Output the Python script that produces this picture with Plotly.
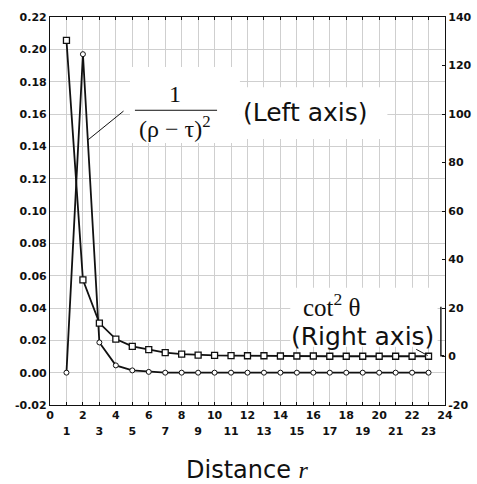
import plotly.graph_objects as go

# ---- data ----
distance_r = list(range(1, 24))
inv_rho_tau_sq = [0.0, 0.197, 0.0187, 0.0045, 0.0014, 0.0005, 0.0, 0.0, 0.0, 0.0, 0.0, 0.0,
                  0.0, 0.0, 0.0, 0.0, 0.0, 0.0, 0.0, 0.0, 0.0, 0.0, 0.0]            # left axis
cot_sq_theta = [130.4, 31.6, 13.8, 7.2, 4.2, 2.8, 1.6, 1.0, 0.6, 0.5, 0.4, 0.3,
                0.3, 0.2, 0.2, 0.2, 0.1, 0.1, 0.1, 0.1, 0.1, 0.1, 0.1]          # right axis
even_ticks = list(range(0, 25, 2))
odd_ticks = list(range(1, 24, 2))
left_ticks = [round(-0.02 + 0.02 * i, 2) for i in range(13)]
right_ticks = list(range(-20, 141, 20))

TICKFONT = dict(family="DejaVu Sans", size=11, color="#111", weight="bold")
SERIF = "Liberation Serif"
SANS = "DejaVu Sans"

fig = go.Figure()
fig.add_trace(go.Scatter(
    x=distance_r, y=inv_rho_tau_sq, mode="lines+markers",
    line=dict(color="#111", width=1.8),
    marker=dict(symbol="circle", size=5, color="white", line=dict(color="#111", width=1)),
    xaxis="x", yaxis="y", showlegend=False, hoverinfo="skip"))
fig.add_trace(go.Scatter(
    x=distance_r, y=cot_sq_theta, mode="lines+markers",
    line=dict(color="#111", width=1.8),
    marker=dict(symbol="square", size=6, color="white", line=dict(color="#111", width=1.3)),
    xaxis="x2", yaxis="y2", showlegend=False, hoverinfo="skip"))

even_text = [str(v) if v % 2 == 0 else "" for v in range(25)]

fig.update_layout(
    template="none",
    width=477, height=484,
    margin=dict(l=50, r=32, t=17, b=79, autoexpand=False),
    paper_bgcolor="white", plot_bgcolor="white",
    xaxis=dict(range=[0, 24], tickmode="array", tickvals=list(range(25)), ticktext=even_text,
               showgrid=True, gridcolor="#cfcfcf", gridwidth=1,
               showline=True, linecolor="#111", linewidth=1.2, mirror="ticks",
               ticks="inside", ticklen=3, tickcolor="#111", tickfont=TICKFONT,
               zeroline=False, automargin=False),
    xaxis2=dict(range=[0, 24], overlaying="x", anchor="y", side="bottom",
                tickmode="array", tickvals=odd_ticks, ticktext=[str(v) for v in odd_ticks],
                showgrid=False, showline=False, ticks="", tickfont=TICKFONT,
                ticklabelstandoff=18, zeroline=False, automargin=False),
    yaxis=dict(range=[-0.02, 0.22], tickmode="array", tickvals=left_ticks,
               ticktext=[f"{v:.2f}" for v in left_ticks],
               showgrid=True, gridcolor="#cfcfcf", gridwidth=1,
               showline=True, linecolor="#111", linewidth=1.2,
               ticks="", tickfont=TICKFONT, zeroline=False, automargin=False),
    yaxis2=dict(range=[-20, 140], tickmode="array", tickvals=right_ticks,
                ticktext=[str(v) for v in right_ticks],
                overlaying="y", side="right", anchor="x2",
                showgrid=False, showline=True, linecolor="#111", linewidth=1.2,
                ticks="inside", ticklen=3, tickcolor="#111", tickfont=TICKFONT,
                zeroline=False, automargin=False),
)

# white boxes hiding the grid behind the labels
for x0, x1, y0, y1 in [(4.86, 11.54, 0.142, 0.189),
                       (11.54, 20.5, 0.1445, 0.1765),
                       (14.6, 23.55, 0.016, 0.0525)]:
    fig.add_shape(type="rect", xref="x", yref="y", x0=x0, x1=x1, y0=y0, y1=y1,
                  fillcolor="white", line=dict(width=0), layer="between")

# fraction 1/(rho - tau)^2
fig.add_annotation(x=7.6, y=0.1725, xref="x", yref="y", text="1", showarrow=False,
                   font=dict(family=SERIF, size=24, color="#111"))
fig.add_shape(type="line", xref="x", yref="y", x0=5.16, x1=10.15, y0=0.1623, y1=0.1623,
              line=dict(color="#111", width=1))
fig.add_annotation(x=7.6, y=0.152, xref="x", yref="y",
                   text="(ρ − τ)<sup>2</sup>", showarrow=False,
                   font=dict(family=SERIF, size=24, color="#111"))
fig.add_annotation(x=2.31, y=0.144, xref="x", yref="y", text="", showarrow=True,
                   arrowhead=0, arrowwidth=1, arrowcolor="#111", ax=37, ay=-30)
fig.add_annotation(x=15.55, y=0.1611, xref="x", yref="y", text="(Left axis)",
                   showarrow=False, font=dict(family=SANS, size=25, color="#111"))

# cot^2 theta (Right axis)
fig.add_annotation(x=17.13, y=0.042, xref="x", yref="y", text="cot<sup>2</sup> θ",
                   showarrow=False, font=dict(family=SERIF, size=25, color="#111"))
fig.add_annotation(x=18.99, y=0.0222, xref="x", yref="y", text="(Right axis)",
                   showarrow=False, font=dict(family=SANS, size=25, color="#111"))
fig.add_annotation(x=22.95, y=0.4, xref="x2", yref="y2", text="", showarrow=True,
                   arrowhead=0, arrowwidth=1, arrowcolor="#111", ax=-13, ay=-7)
fig.add_shape(type="path", xref="x2", yref="y2",
              path="M 23.75 20.5 L 23.75 0.3 L 23.95 0.3",
              line=dict(color="#111", width=1.4))

# axis title
fig.add_annotation(x=0.5, y=0, xref="paper", yref="paper", yanchor="middle",
                   yshift=-65, showarrow=False,
                   text="Distance <span style='font-family:Liberation Serif'><i>r</i></span>",
                   font=dict(family=SANS, size=24, color="#111"))

fig.write_html("out.html", config={"displayModeBar": False},
               post_script="document.body.style.margin='0';document.body.style.padding='0';")
